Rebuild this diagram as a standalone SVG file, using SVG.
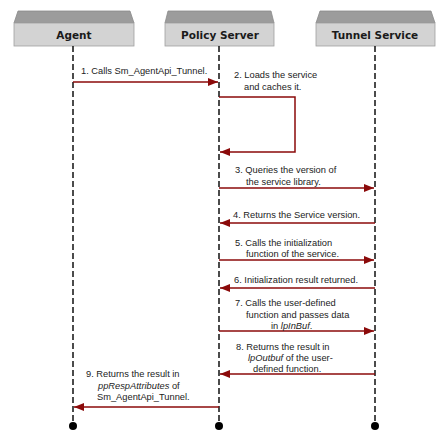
<svg xmlns="http://www.w3.org/2000/svg" width="445" height="444" viewBox="0 0 445 444">
<defs>
<marker id="ah" viewBox="0 0 10 8" refX="10" refY="4" markerWidth="10" markerHeight="8" markerUnits="userSpaceOnUse" orient="auto">
<path d="M0,0 L10,4 L0,8 Z" fill="#8b0a0a"/>
</marker>
<style>
.top{fill:#9c9c9c;stroke:#8a8a8a;stroke-width:0.8}
.front{fill:#d3d3d3;stroke:#a0a0a0;stroke-width:0.8}
.hd{font-family:"DejaVu Sans",Verdana,sans-serif;font-weight:bold;font-size:10.5px;fill:#1a1a1a;text-anchor:middle}
.life{stroke:#111;stroke-width:1.5;stroke-dasharray:6,3;fill:none}
.end{fill:#000}
.msg{stroke:#8b0a0a;stroke-width:1.5;fill:none;marker-end:url(#ah)}
.t{font-family:"Liberation Sans",Arial,sans-serif;font-size:9.3px;fill:#222}
</style>
</defs>
<rect width="445" height="444" fill="#fff"/>
<g id="agent">
<polygon class="top" points="18,11 130,11 134,23 14,23"/>
<rect class="front" x="14" y="23" width="120" height="23"/>
<text class="hd" x="74" y="39">Agent</text>
<line class="life" x1="73" y1="46" x2="73" y2="424"/>
<circle class="end" cx="73" cy="426" r="4"/>
</g>
<g id="policy">
<polygon class="top" points="168,11 271,11 274,23 165,23"/>
<rect class="front" x="165" y="23" width="109" height="23"/>
<text class="hd" x="220" y="39">Policy Server</text>
<line class="life" x1="219" y1="46" x2="219" y2="424"/>
<circle class="end" cx="219" cy="426" r="4"/>
</g>
<g id="tunnel">
<polygon class="top" points="320,11 431,11 435,23 316,23"/>
<rect class="front" x="316" y="23" width="119" height="23"/>
<text class="hd" x="375" y="39">Tunnel Service</text>
<line class="life" x1="375" y1="46" x2="375" y2="424"/>
<circle class="end" cx="375" cy="426" r="4"/>
</g>
<g id="connectors">
<line class="msg" x1="73" y1="82" x2="218" y2="82"/>
<polyline class="msg" points="219,97 295,97 295,152 220,152"/>
<line class="msg" x1="219" y1="188" x2="374" y2="188"/>
<line class="msg" x1="375" y1="223" x2="220" y2="223"/>
<line class="msg" x1="219" y1="260" x2="374" y2="260"/>
<line class="msg" x1="375" y1="288" x2="220" y2="288"/>
<line class="msg" x1="219" y1="331" x2="374" y2="331"/>
<line class="msg" x1="375" y1="374" x2="220" y2="374"/>
<line class="msg" x1="219" y1="407" x2="74" y2="407"/>
</g>
<g id="labels">
<text class="t" x="81" y="74">1. Calls Sm_AgentApi_Tunnel.</text>
<text class="t" x="234" y="78">2. Loads the service</text>
<text class="t" x="244" y="90">and caches it.</text>
<text class="t" x="235" y="173">3. Queries the version of</text>
<text class="t" x="246" y="185">the service library.</text>
<text class="t" x="233" y="218">4. Returns the Service version.</text>
<text class="t" x="235" y="246">5. Calls the initialization</text>
<text class="t" x="246" y="257">function of the service.</text>
<text class="t" x="234" y="283">6. Initialization result returned.</text>
<text class="t" x="235" y="306">7. Calls the user-defined</text>
<text class="t" x="246" y="318">function and passes data</text>
<text class="t" x="271" y="329">in <tspan font-style="italic">lpInBuf</tspan>.</text>
<text class="t" x="236" y="350">8. Returns the result in</text>
<text class="t" x="248" y="361"><tspan font-style="italic">lpOutbuf</tspan> of the user-</text>
<text class="t" x="253" y="372">defined function.</text>
<text class="t" x="86" y="377">9. Returns the result in</text>
<text class="t" x="98" y="389"><tspan font-style="italic">ppRespAttributes</tspan> of</text>
<text class="t" x="97" y="400">Sm_AgentApi_Tunnel.</text>
</g>
</svg>
